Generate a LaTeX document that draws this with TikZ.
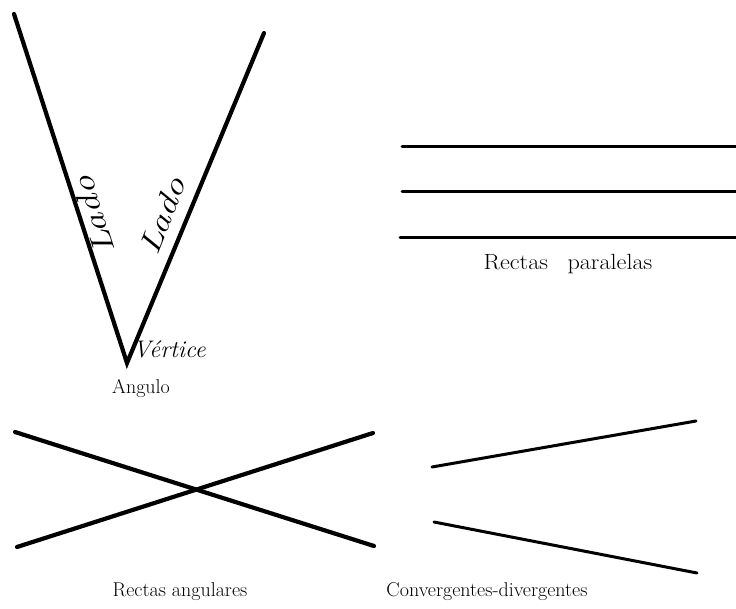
\documentclass[tikz,border=0pt]{standalone}
\begin{document}
\begin{tikzpicture}[x=1pt,y=-1pt,
  thick line/.style={line width=4.2pt,line cap=round},
  mid line/.style={line width=3pt,line cap=round},
  label text/.style={font=\fontsize{20}{22}\selectfont,inner sep=0pt},
  hand/.style={font=\fontsize{30}{30}\selectfont\itshape,inner sep=0pt,outer sep=6pt}]
\useasboundingbox (0,0) rectangle (736,608);
% Angle
\coordinate (V) at (127,363);
\coordinate (A) at (14,14);
\coordinate (B) at (264,33);
\draw[thick line] (A) -- (V) -- (B);
\path (V) -- (A) node[hand,pos=0.41,anchor=north,rotate=107.8,outer sep=3pt] (lado1) {\scalebox{1.3}[1]{Lado}};
\path (V) -- (B) node[hand,pos=0.42,anchor=south,rotate=68.5,outer sep=13pt] (lado2) {\scalebox{1.3}[1]{Lado}};
\node[font=\fontsize{24}{24}\selectfont\itshape,inner sep=0pt,anchor=base west] (vert) at (133,357) {Vértice};
\node[label text,anchor=base] (ang) at (141,393) {Angulo};
% Parallel lines
\coordinate (p1a) at (402,146); \coordinate (p1b) at (736,146);
\coordinate (p2a) at (402,191); \coordinate (p2b) at (736,191);
\coordinate (p3a) at (400,237); \coordinate (p3b) at (736,237);
\draw[mid line] (p1a) -- (p1b);
\draw[mid line] (p2a) -- (p2b);
\draw[mid line] (p3a) -- (p3b);
\node[label text,font=\fontsize{22}{24}\selectfont] (par) at (568,264) {\scalebox{1.1}[1]{Rectas\enspace\ paralelas}};
% Crossing lines
\coordinate (x1a) at (15,432); \coordinate (x1b) at (374,546);
\coordinate (x2a) at (17,547); \coordinate (x2b) at (373,433);
\draw[thick line] (x1a) -- (x1b);
\draw[thick line] (x2a) -- (x2b);
\node[label text] (angl) at (180,592) {Rectas angulares};
% Convergent-divergent
\coordinate (c1a) at (432,467); \coordinate (c1b) at (696,421);
\coordinate (c2a) at (434,522); \coordinate (c2b) at (697,573);
\draw[mid line] (c1a) -- (c1b);
\draw[mid line] (c2a) -- (c2b);
\node[label text] (conv) at (487,592) {Convergentes-divergentes};
\end{tikzpicture}
\end{document}
